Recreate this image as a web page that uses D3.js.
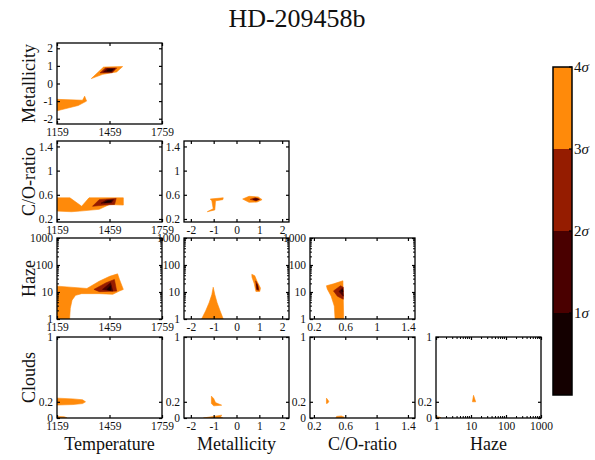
<!DOCTYPE html>
<html><head><meta charset="utf-8">
<script src="https://cdn.jsdelivr.net/npm/d3@7"></script>
<style>body{margin:0;background:#fff}svg{display:block}text{font-family:"Liberation Serif","DejaVu Serif",serif;fill:#111}</style>
</head><body>
<script>
// ---------- data ----------
const title = "HD-209458b";
const variables = ["Temperature","Metallicity","C/O-ratio","Haze","Clouds"];
const temperatureTicks = [1159,1459,1759];
const metallicityTicks = [-2,-1,0,1,2];
const coTicks = [0.2,0.6,1,1.4];
const hazeTicks = [1,10,100,1000];
const cloudsTicks = [0,0.2,1];
const sigmaLevels = [1,2,3,4];
const sigmaColors = ["#140000","#4a0000","#951c00","#ff8a0a"]; // 0-1,1-2,2-3,3-4

// contour polygons [x, y] in data units, level = sigma
const tempMet4a = [[1355,0.28],[1425,0.93],[1534,0.96],[1500,0.66],[1420,0.52]];
const tempMet4b = [[1159,-0.9],[1305,-0.95],[1317,-0.72],[1328,-1.0],[1280,-1.25],[1159,-1.55]];
const tempMet3 = [[1405,0.6],[1436,0.88],[1500,0.88],[1475,0.62]];
const tempMet2 = [[1425,0.66],[1445,0.84],[1490,0.84],[1470,0.66]];
const tempMet1 = [[1445,0.72],[1455,0.8],[1478,0.8],[1466,0.72]];

const tempCO4 = [[1159,0.55],[1233,0.55],[1300,0.41],[1342,0.55],[1538,0.55],[1538,0.43],[1459,0.44],[1400,0.36],[1290,0.33],[1242,0.32],[1159,0.33]];
const tempCO3 = [[1362,0.41],[1400,0.52],[1497,0.54],[1488,0.44],[1430,0.43]];
const tempCO2 = [[1410,0.46],[1440,0.51],[1482,0.52],[1470,0.47]];
const tempCO1 = [[1430,0.47],[1450,0.5],[1470,0.5],[1462,0.48]];

const metCO4a = [[-1.15,0.53],[-0.58,0.55],[-0.6,0.52],[-0.92,0.5],[-0.95,0.35],[-1.28,0.32],[-1.02,0.37],[-1.08,0.5]];
const metCO4b = [[0.27,0.53],[0.55,0.575],[0.95,0.565],[1.12,0.52],[0.9,0.48],[0.55,0.475]];
const metCO3 = [[0.6,0.525],[0.82,0.55],[1.02,0.525],[0.85,0.5]];
const metCO2 = [[0.72,0.525],[0.86,0.54],[0.98,0.525],[0.86,0.51]];

const tempHaze4 = [[1159,16.5],[1330,13.5],[1400,25],[1460,38],[1505,47],[1516,29],[1538,12.5],[1515,10.8],[1478,8.2],[1400,8.7],[1300,8.7],[1265,7.5],[1245,5],[1235,2.5],[1231,1],[1159,1]];
const tempHaze3 = [[1370,12.5],[1440,22],[1487,29],[1500,10.8],[1402,10.3]];
const tempHaze2 = [[1419,12.5],[1465,22],[1478,10.8]];
const tempHaze1 = [[1445,12.5],[1465,17],[1466,11.5]];

const metHaze4a = [[-1.53,1],[-1.35,2],[-1.2,4],[-1.08,8],[-1.02,15],[-0.95,8],[-0.85,4],[-0.72,2],[-0.58,1]];
const metHaze4b = [[0.67,45],[0.8,40],[0.9,25],[1.05,14],[1.02,10.5],[0.85,10.5],[0.78,20],[0.68,35]];
const metHaze3 = [[0.84,26],[0.93,19],[0.98,11.5],[0.88,12]];
const metHaze2 = [[0.88,20],[0.93,16],[0.95,12.5],[0.9,13]];

const coHaze4 = [[0.36,17],[0.45,20],[0.57,26],[0.58,1],[0.47,1],[0.46,3],[0.42,7],[0.37,13]];
const coHaze3 = [[0.45,11],[0.54,17],[0.575,15],[0.575,5.4],[0.5,7]];
const coHaze2 = [[0.52,10.5],[0.565,14],[0.575,7]];
const coHaze1 = [[0.55,11],[0.565,12.5],[0.57,10]];

const tempClouds4a = [[1159,0.245],[1250,0.236],[1305,0.225],[1322,0.2],[1305,0.178],[1250,0.166],[1159,0.16]];
const tempClouds4b = [[1159,0.02],[1200,0.015],[1215,0.004],[1159,0.0]];

const metClouds4a = [[-1.1,0.27],[-1.0,0.24],[-0.92,0.19],[-0.65,0.158],[-1.0,0.15],[-1.1,0.18]];
const metClouds4b = [[-1.45,0.0],[-1.0,0.02],[-0.65,0.035],[-0.7,0.012],[-0.6,0.0]];

const coClouds4a = [[0.36,0.245],[0.38,0.22],[0.39,0.2],[0.37,0.18],[0.36,0.18]];
const coClouds4b = [[0.48,0],[0.49,0.02],[0.55,0.025],[0.59,0.01],[0.58,0]];

const hazeClouds4a = [[11,0.2],[11.8,0.28],[13.6,0.2]];
const hazeClouds4b = [[1,0.0],[1,0.02],[1.3,0.01],[1.4,0]];

// ---------- layout ----------
const W = 595, H = 460;
const colX = [57,184,310,436], rowY = [43,141,238,337];
const pw = 105, ph = 81;
const axisInfo = {
  "Temperature": {type:"lin", domain:[1159,1759], ticks:temperatureTicks},
  "Metallicity": {type:"lin", domain:[-2.3,2.3], ticks:metallicityTicks},
  "C/O-ratio": {type:"lin", domain:[0.15,1.49], ticks:coTicks},
  "Haze": {type:"log", domain:[1,1000], ticks:hazeTicks},
  "Clouds": {type:"lin", domain:[0,1], ticks:cloudsTicks}
};
const panels = [
  {r:0,c:0,polys:[[tempMet4a,4],[tempMet4b,4],[tempMet3,3],[tempMet2,2],[tempMet1,1]]},
  {r:1,c:0,polys:[[tempCO4,4],[tempCO3,3],[tempCO2,2],[tempCO1,1]]},
  {r:1,c:1,polys:[[metCO4a,4],[metCO4b,4],[metCO3,3],[metCO2,2]]},
  {r:2,c:0,polys:[[tempHaze4,4],[tempHaze3,3],[tempHaze2,2],[tempHaze1,1]]},
  {r:2,c:1,polys:[[metHaze4a,4],[metHaze4b,4],[metHaze3,3],[metHaze2,2]]},
  {r:2,c:2,polys:[[coHaze4,4],[coHaze3,3],[coHaze2,2],[coHaze1,1]]},
  {r:3,c:0,polys:[[tempClouds4a,4],[tempClouds4b,4]]},
  {r:3,c:1,polys:[[metClouds4a,4],[metClouds4b,4]]},
  {r:3,c:2,polys:[[coClouds4a,4],[coClouds4b,4]]},
  {r:3,c:3,polys:[[hazeClouds4a,4],[hazeClouds4b,4]]}
];

const svg = d3.select("body").append("svg").attr("width",W).attr("height",H);
svg.append("text").attr("x",297).attr("y",27).attr("text-anchor","middle").attr("font-size",26).text(title);

function makeScale(name, range){
  const a = axisInfo[name];
  return (a.type==="log"? d3.scaleLog(): d3.scaleLinear()).domain(a.domain).range(range);
}
function fmt(v){ return String(v); }
function minorTicks(name){
  const a = axisInfo[name];
  if(a.type!=="log") return [];
  const out=[];
  for(let d=1; d<1000; d*=10) for(let k=2;k<=9;k++) out.push(d*k);
  return out;
}

panels.forEach((p,i)=>{
  const xn = variables[p.c], yn = variables[p.r+1];
  const x0 = colX[p.c], y0 = rowY[p.r];
  const xs = makeScale(xn,[0,pw]), ys = makeScale(yn,[ph,0]);
  const g = svg.append("g").attr("transform",`translate(${x0},${y0})`);
  g.append("clipPath").attr("id","clip"+i).append("rect").attr("width",pw).attr("height",ph);
  const line = d3.line().x(d=>xs(d[0])).y(d=>ys(d[1])).curve(d3.curveLinearClosed);
  const cg = g.append("g").attr("clip-path",`url(#clip${i})`);
  p.polys.slice().sort((a,b)=>b[1]-a[1]).forEach(([poly,lvl])=>{
    cg.append("path").attr("d",line(poly)).attr("fill",sigmaColors[lvl-1]).attr("stroke",sigmaColors[lvl-1]).attr("stroke-width",0.6);
  });
  const xa = axisInfo[xn], ya = axisInfo[yn];
  const bottom = d3.axisBottom(xs).tickValues(xa.ticks).tickSize(-3).tickFormat(fmt).tickPadding(4);
  const top = d3.axisTop(xs).tickValues(xa.ticks).tickSize(-3).tickFormat("");
  const left = d3.axisLeft(ys).tickValues(ya.ticks).tickSize(-3).tickFormat(fmt).tickPadding(4);
  const right = d3.axisRight(ys).tickValues(ya.ticks).tickSize(-3).tickFormat("");
  const styleAx = s=>{ s.select(".domain").remove(); s.selectAll("line").attr("stroke","#000").attr("stroke-width",1.2); s.selectAll("text").attr("font-size",11.5).attr("font-family","Liberation Serif").attr("fill","#111"); };
  g.append("g").attr("transform",`translate(0,${ph})`).call(bottom).call(styleAx);
  g.append("g").call(top).call(styleAx);
  g.append("g").call(left).call(styleAx);
  g.append("g").attr("transform",`translate(${pw},0)`).call(right).call(styleAx);
  minorTicks(xn).forEach(v=>{
    [[ph,ph-2],[0,2]].forEach(([a,b])=>g.append("line").attr("x1",xs(v)).attr("x2",xs(v)).attr("y1",a).attr("y2",b).attr("stroke","#000").attr("stroke-width",1));
  });
  minorTicks(yn).forEach(v=>{
    [[0,2],[pw,pw-2]].forEach(([a,b])=>g.append("line").attr("y1",ys(v)).attr("y2",ys(v)).attr("x1",a).attr("x2",b).attr("stroke","#000").attr("stroke-width",1));
  });
  g.append("rect").attr("width",pw).attr("height",ph).attr("fill","none").attr("stroke","#000").attr("stroke-width",1.3);
  if(p.c===0){
    svg.append("text").attr("transform",`translate(${x0-22},${y0+ph/2}) rotate(-90)`).attr("text-anchor","middle").attr("font-size",18).text(yn);
  }
  if(p.r===3){
    svg.append("text").attr("x",x0+pw/2).attr("y",y0+ph+32).attr("text-anchor","middle").attr("font-size",18).text(xn);
  }
});

// colorbar
const cbX = 553, cbW = 19;
const cs = d3.scaleLinear().domain([0,4]).range([395,67]);
const bands = [0,1,2,3];
svg.selectAll(".band").data(bands).enter().append("rect")
  .attr("x",cbX).attr("width",cbW).attr("y",d=>cs(d+1)).attr("height",d=>cs(d)-cs(d+1)).attr("fill",d=>sigmaColors[d]);
svg.append("rect").attr("x",cbX).attr("y",cs(4)).attr("width",cbW).attr("height",cs(0)-cs(4)).attr("fill","none").attr("stroke","#000").attr("stroke-width",1.5);
sigmaLevels.forEach((l,i)=>{
  svg.append("line").attr("x1",cbX+cbW-3).attr("x2",cbX+cbW).attr("y1",cs(l)).attr("y2",cs(l)).attr("stroke","#000").attr("stroke-width",1.2);
  const t = svg.append("text").attr("x",cbX+cbW+2).attr("y",cs(l)+5).attr("font-size",15);
  t.append("tspan").text(String(l));
  t.append("tspan").attr("font-style","italic").text("σ");
});
</script>
</body></html>
